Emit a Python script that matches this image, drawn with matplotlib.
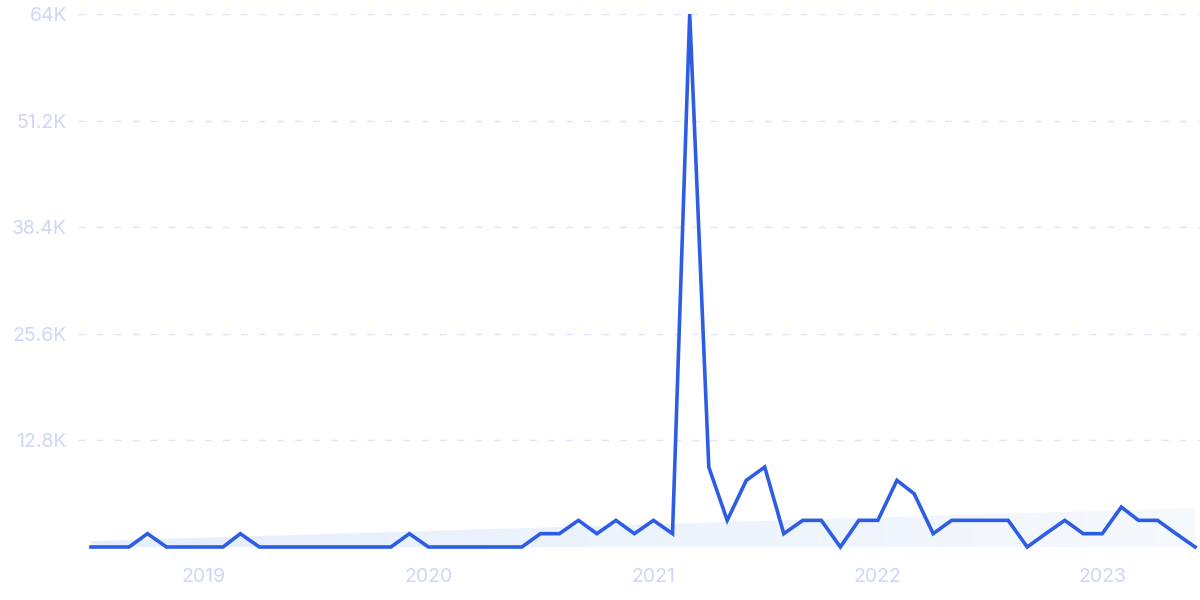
import matplotlib
matplotlib.use("Agg")
import matplotlib.pyplot as plt
import matplotlib.dates as mdates
from matplotlib.transforms import Bbox
from matplotlib.colors import LinearSegmentedColormap
import numpy as np
import pandas as pd

# ---- data ----
months = pd.date_range("2018-07-01", "2023-06-01", freq="MS")
values = [
    0, 0, 0, 1600, 0, 0,                 # 2018-07 .. 2018-12
    0, 0, 1600, 0, 0, 0, 0, 0, 0, 0, 0, 1600,   # 2019
    0, 0, 0, 0, 0, 0, 1600, 1600, 3200, 1600, 3200, 1600,  # 2020
    3200, 1600, 64000, 9600, 3200, 8000, 9600, 1600, 3200, 3200, 0, 3200,  # 2021
    3200, 8000, 6400, 1600, 3200, 3200, 3200, 3200, 0, 1600, 3200, 1600,  # 2022
    1600, 4800, 3200, 3200, 1600, 0,     # 2023
]
trend_start = 700
trend_end = 4700
ytick_values = [12800, 25600, 38400, 51200, 64000]
ytick_labels = ["12.8K", "25.6K", "38.4K", "51.2K", "64K"]
year_ticks = ["2019-01-01", "2020-01-01", "2021-01-01", "2022-01-01", "2023-01-01"]
year_labels = ["2019", "2020", "2021", "2022", "2023"]

LINE = "#2d5de3"
TXT = "#cdd7f6"
GRID = "#dfe5f8"

plt.rcParams["font.family"] = ["Inter", "DejaVu Sans"]

fig = plt.figure(figsize=(12, 6), dpi=100)
ax = fig.add_axes([78 / 1200, 53 / 600, 1 - 78 / 1200, (547 - 14) / 600])

x = mdates.date2num(months)
xt = [x[0], x[-1]]
yt = [trend_start, trend_end]

# gradient-filled trend band
poly = ax.fill_between(xt, [0, 0], yt, color="none", lw=0)
grad = np.linspace(1.0, 0.35, 256).reshape(1, -1)
cmap = LinearSegmentedColormap.from_list("g", ["#ffffff", "#e4eefc"])
img = ax.imshow(grad, cmap=cmap, vmin=0, vmax=1, aspect="auto",
                extent=[x[0], x[-1], 0, trend_end], origin="lower", zorder=1)
path = poly.get_paths()[0]
img.set_clip_path(path, transform=ax.transData)

line, = ax.plot(x, values, color=LINE, lw=2.6, zorder=3, solid_joinstyle="miter")
line.set_clip_box(Bbox.from_extents(70, 600 - 547 - 4, 1200, 600 - 13))

ax.set_ylim(0, 64000)
ax.set_xlim(mdates.date2num(pd.Timestamp("2018-06-10")),
            mdates.date2num(pd.Timestamp("2023-06-09")))

ax.set_yticks(ytick_values)
ax.set_yticklabels(ytick_labels)
ax.set_xticks(mdates.date2num(pd.to_datetime(year_ticks)))
ax.set_xticklabels(year_labels)

ax.tick_params(axis="y", length=0, pad=8, labelsize=14, labelcolor=TXT)
ax.tick_params(axis="x", length=0, pad=15, labelsize=14, labelcolor=TXT)
ax.grid(axis="y", color=GRID, lw=1, linestyle=(0, (5, 8)))
ax.grid(axis="x", visible=False)
ax.set_axisbelow(True)
for s in ax.spines.values():
    s.set_visible(False)

fig.savefig("out.png", dpi=100)
